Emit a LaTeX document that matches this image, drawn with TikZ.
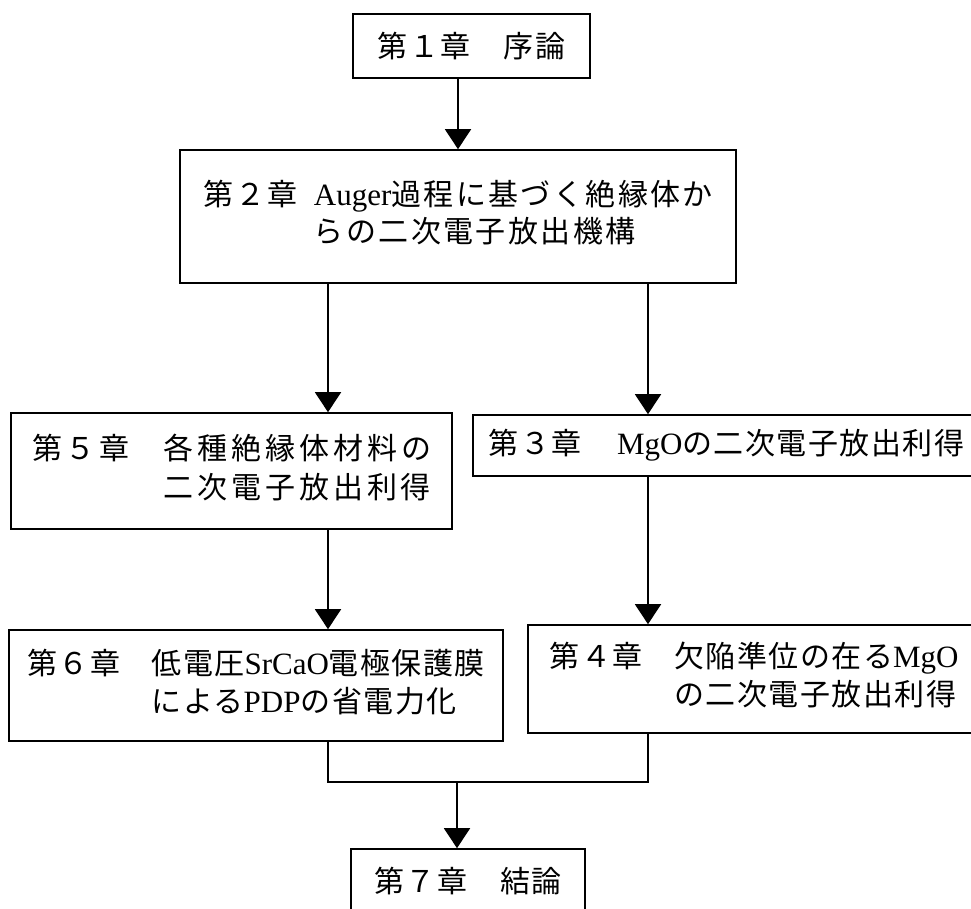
\documentclass[tikz,border=0pt]{standalone}
\usepackage{fontspec}
\setmainfont{Liberation Serif}
\newfontfamily\jpf{Noto Sans CJK JP}[LetterSpace=5]
\newfontfamily\jpwide{Noto Sans CJK JP}[LetterSpace=13]
\newfontfamily\jpmid{Noto Sans CJK JP}[LetterSpace=8]
\usetikzlibrary{arrows.meta}
\newcommand\lt[1]{{\rmfamily\fontsize{31pt}{38pt}\selectfont #1}}
\begin{document}
\begin{tikzpicture}[x=1pt,y=-1pt,
  box/.style={draw, line width=1.6pt, inner sep=0pt, anchor=center,
    font=\jpf\fontsize{30pt}{38pt}\selectfont},
  conn/.style={line width=1.6pt},
  arr/.style={line width=1.6pt, -{Triangle[width=26pt,length=20pt]}}]
\useasboundingbox (0,0) rectangle (971,908);
\clip (0,0) rectangle (971,908);
\node[box, minimum width=237pt, minimum height=64pt] (b1) at (471.5,46) {第１章　序論};
\node[box, minimum width=556pt, minimum height=133pt, font=\jpmid\fontsize{30pt}{37pt}\selectfont] (b2) at (458,216.5)
  {\begin{tabular}{@{}l@{}l@{}}第２章\hspace{16pt} & \lt{Auger}過程に基づく絶縁体か\\ & らの二次電子放出機構\end{tabular}};
\node[box, minimum width=507pt, minimum height=61pt] (b3) at (726.5,445.5)
  {第３章　\hspace{4pt}\lt{MgO}の二次電子放出利得};
\node[box, minimum width=441pt, minimum height=116pt, font=\jpwide\fontsize{30pt}{39pt}\selectfont] (b5) at (231.5,471)
  {\begin{tabular}{@{}l@{}l@{}}第５章　 & 各種絶縁体材料の\\ & 二次電子放出利得\end{tabular}};
\node[box, minimum width=494pt, minimum height=111pt] (b6) at (256,685.5)
  {\begin{tabular}{@{}l@{}l@{}}第６章　 & 低電圧\lt{SrCaO}電極保護膜\\ & による\lt{PDP}の省電力化\end{tabular}};
\node[box, minimum width=452pt, minimum height=108pt] (b4) at (754,679)
  {\begin{tabular}{@{}l@{}l@{}}第４章　 & 欠陥準位の在る\lt{MgO}\\ & の二次電子放出利得\end{tabular}};
\node[box, minimum width=234pt, minimum height=64pt] (b7) at (468,881) {第７章　結論};
\coordinate (colL) at (328,0);
\coordinate (colR) at (648,0);
\coordinate (m) at (457,782);
\draw[arr] (b1.south -| b2.north) -- (b2.north);
\draw[arr] (b2.south -| colL) -- (b5.north -| colL);
\draw[arr] (b2.south -| colR) -- (b3.north -| colR);
\draw[arr] (b5.south -| colL) -- (b6.north -| colL);
\draw[arr] (b3.south -| colR) -- (b4.north -| colR);
\draw[conn] (b6.south -| colL) |- (m) -| (b4.south -| colR);
\draw[arr] (m) -- (b7.north -| m);
\end{tikzpicture}
\end{document}
